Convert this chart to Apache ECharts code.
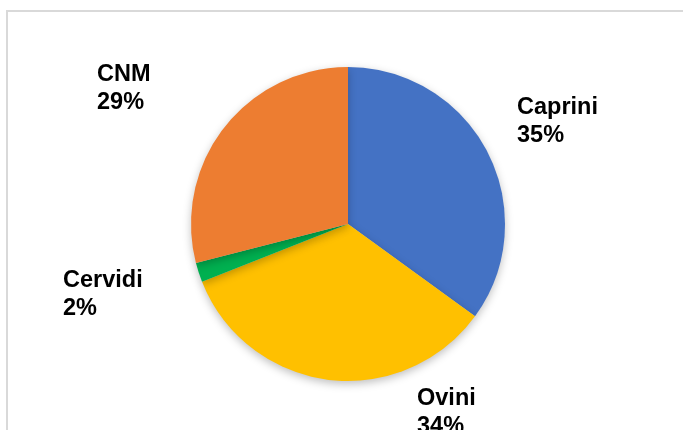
<!DOCTYPE html>
<html><head><meta charset="utf-8">
<script src="https://cdn.jsdelivr.net/npm/echarts@6/dist/echarts.min.js"></script>
<style>html,body{margin:0;padding:0;background:#fff}#c{width:683px;height:430px}</style>
</head><body><div id="c"></div>
<script>
var categories = ['Caprini', 'Ovini', 'Cervidi', 'CNM'];
var values = [35, 34, 2, 29];
var colors = ['#4472C4', '#FFC000', '#00B050', '#ED7D31'];
var labelPos = {Caprini: [517, 94], Ovini: [417, 385], Cervidi: [63, 267], CNM: [97, 61]};

var chart = echarts.init(document.getElementById('c'), null, {renderer: 'canvas'});
chart.setOption({
  animation: false,
  backgroundColor: '#fff',
  graphic: [{
    type: 'rect', shape: {x: 7, y: 11, width: 700, height: 440},
    style: {fill: 'none', stroke: '#d9d9d9', lineWidth: 2}, silent: true
  }],
  series: [{
    type: 'pie',
    center: [348, 224],
    radius: 157,
    startAngle: 90,
    clockwise: true,
    data: categories.map(function (n, i) {
      return {name: n, value: values[i], itemStyle: {color: colors[i]}};
    }),
    itemStyle: {shadowBlur: 8, shadowColor: 'rgba(0,0,0,0.25)', shadowOffsetY: 3, borderWidth: 0},
    label: {
      show: true,
      formatter: function (p) { return p.name + '\n' + Math.round(p.percent) + '%'; },
      fontFamily: 'Liberation Sans, Arial, sans-serif',
      fontWeight: 'bold',
      fontSize: 23.5,
      lineHeight: 28,
      color: '#000'
    },
    labelLine: {show: false},
    labelLayout: function (params) {
      var n = categories[params.dataIndex];
      var p = labelPos[n];
      return {x: p[0], y: p[1], align: 'left', verticalAlign: 'top'};
    }
  }]
});
</script></body></html>
